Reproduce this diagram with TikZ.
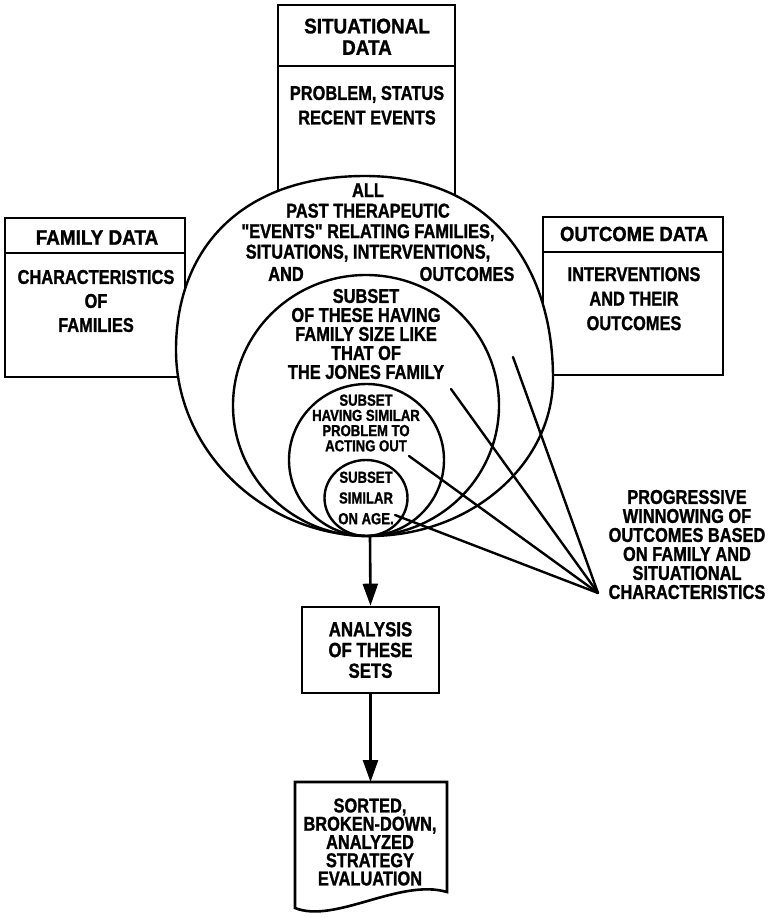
\documentclass[tikz,border=0pt]{standalone}
\usepackage{fontspec}
\setmainfont{Liberation Sans}
\newfontfamily\narrowfont[FakeStretch=0.82, FakeBold=1.2]{Liberation Sans}
\newfontfamily\widefont[FakeStretch=0.9, FakeBold=1.2]{Liberation Sans}
\usetikzlibrary{arrows.meta}

\tikzset{
  frame/.style={line width=2.6pt, line join=miter},
  ring/.style={line width=2.4pt},
  ray/.style={line width=2.4pt, line cap=round},
  flow/.style={line width=2.6pt, -{Triangle[length=22pt,width=15pt]}},
  lettering/.style={inner sep=0pt, align=center},
  title/.style={lettering, font=\widefont\bfseries\fontsize{21}{21.5}\selectfont},
  body/.style={lettering, font=\narrowfont\bfseries\fontsize{20}{24.5}\selectfont},
  bigtext/.style={lettering, font=\narrowfont\bfseries\fontsize{20}{20.5}\selectfont},
  smalltext/.style={lettering, font=\narrowfont\bfseries\fontsize{16}{15.2}\selectfont},
}

\begin{document}
\begin{tikzpicture}[x=1pt,y=-1pt]
\useasboundingbox (0,0) rectangle (770,918);

% ---- data sources (their inner parts are hidden by the big circle) ----
\draw[frame] (278,240) -- (278,5) -- (455,5) -- (455,240);
\draw[frame] (278,66) -- (455,66);
\draw[frame] (5,218) rectangle (185,377);
\draw[frame] (5,253) -- (185,253);
\draw[frame] (543,217) rectangle (723,375);
\draw[frame] (543,252) -- (723,252);

% ---- nested sets, all touching at the bottom ----
\draw[ring, fill=white] (365,176)
  .. controls (490,176) and (553,265) .. (553,378)
  .. controls (553,465) and (470,536) .. (370,536)
  .. controls (265,536) and (176,452) .. (176,350)
  .. controls (176,250) and (240,176) .. (365,176) -- cycle;
\draw[ring] (366,405.5) ellipse [x radius=133pt, y radius=130.5pt];
\draw[ring] (366.5,460) ellipse [x radius=77.5pt, y radius=76pt];
\draw[ring] (366,498) ellipse [x radius=41.5pt, y radius=38pt];
\coordinate (tang) at (370,536);

% ---- texts of the data sources ----
\node[title] (sittitle) at (367,36.75) {SITUATIONAL\\DATA};
\node[body] (sitbody) at (367,105.25) {PROBLEM, STATUS\\RECENT EVENTS};
\node[title] (famtitle) at (97,237.5) {FAMILY DATA};
\node[body, font=\narrowfont\bfseries\fontsize{20}{24}\selectfont] (fambody) at (96,301) {CHARACTERISTICS\\OF\\FAMILIES};
\node[title, font=\widefont\bfseries\fontsize{20.5}{21}\selectfont] (outtitle) at (634,234) {OUTCOME DATA};
\node[body] (outbody) at (634,298.7) {INTERVENTIONS\\AND THEIR\\OUTCOMES};

% ---- texts of the nested sets ----
\node[bigtext] (allevents) at (368,222.5) {ALL\\PAST THERAPEUTIC\\"EVENTS" RELATING FAMILIES,\\SITUATIONS, INTERVENTIONS,};
\node[bigtext] (andword) at (286,274) {AND};
\node[bigtext] (outword) at (467,274) {OUTCOMES};
\node[bigtext, font=\narrowfont\bfseries\fontsize{20}{19}\selectfont] (sizeset) at (366,334) {SUBSET\\OF THESE HAVING\\FAMILY SIZE LIKE\\THAT OF\\THE JONES FAMILY};
\node[smalltext] (probset) at (366,423) {SUBSET\\HAVING SIMILAR\\PROBLEM TO\\ACTING OUT};
\node[smalltext, font=\narrowfont\bfseries\fontsize{16}{20.7}\selectfont] (ageset) at (366,498) {SUBSET\\SIMILAR\\ON AGE.};

% ---- winnowing rays ----
\coordinate (apex) at (598,593);
\coordinate (r1) at (513,357);
\coordinate (r2) at (451,389);
\coordinate (r3) at (409,456);
\coordinate (r4) at (395,515);
\draw[ray] (r1) -- (apex);
\draw[ray] (r2) -- (apex);
\draw[ray] (r3) -- (apex);
\draw[ray] (r4) -- (apex);
\node[bigtext, font=\narrowfont\bfseries\fontsize{20}{19}\selectfont] (winnow) at (687,544.5)
  {PROGRESSIVE\\WINNOWING OF\\OUTCOMES BASED\\ON FAMILY AND\\SITUATIONAL\\CHARACTERISTICS};

% ---- analysis and result ----
\node[frame, draw, lettering, minimum width=137pt, minimum height=86pt,
      font=\narrowfont\bfseries\fontsize{20.5}{20.75}\selectfont] (ana) at (370.5,650)
  {ANALYSIS\\OF THESE\\SETS};
\draw[flow] (tang) -- (ana.north);

\coordinate (doctop) at (370.5,782);
\draw[frame] (295,782) -- (447,782) -- (447,892)
  .. controls (400,878) and (335,924) .. (295,908) -- cycle;
\node[bigtext, font=\narrowfont\bfseries\fontsize{20}{18.25}\selectfont] (result) at (370,842)
  {SORTED,\\BROKEN-DOWN,\\ANALYZED\\STRATEGY\\EVALUATION};
\draw[flow] (ana.south) -- (doctop);

\end{tikzpicture}
\end{document}
